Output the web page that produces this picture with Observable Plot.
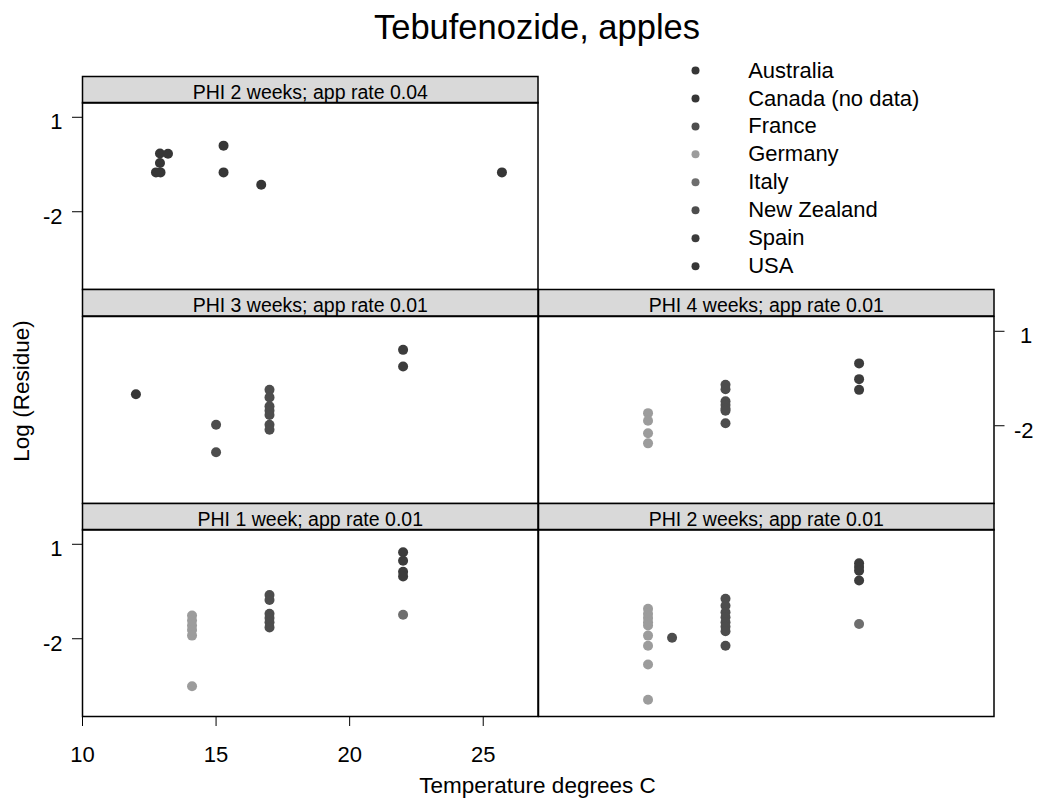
<!DOCTYPE html>
<html>
<head>
<meta charset="utf-8">
<script src="https://cdn.jsdelivr.net/npm/d3@7"></script>
<script src="https://cdn.jsdelivr.net/npm/@observablehq/plot@0.6"></script>
<style>
  body { margin: 0; background: white; }
  #chart { position: relative; width: 1038px; height: 802px; font-family: "Liberation Sans", Arial, Helvetica, sans-serif; }
  #chart > svg { position: absolute; }
</style>
</head>
<body>
<div id="chart"></div>
<script>
// Countries and the grey shade each one is drawn with
const countries = ["Australia", "Canada (no data)", "France", "Germany", "Italy", "New Zealand", "Spain", "USA"];
const countryShades = ["#363636", "#363636", "#4d4d4d", "#9c9c9c", "#6e6e6e", "#4d4d4d", "#3c3c3c", "#363636"];

const panelTitles = [
  "PHI 2 weeks; app rate 0.04",
  "PHI 3 weeks; app rate 0.01",
  "PHI 4 weeks; app rate 0.01",
  "PHI 1 week; app rate 0.01",
  "PHI 2 weeks; app rate 0.01"
];

const xTicks = [10, 15, 20, 25];
const yTicks = [1, -2];
const xDomain = [10, 27.05];
const yDomain = [-4.47, 1.47];

// PHI 2 weeks; app rate 0.04
const phi2w04Temp    = [12.75, 12.92, 12.9, 12.9, 13.2, 15.28, 15.28, 16.69, 25.7];
const phi2w04LogRes  = [-0.75, -0.75, -0.45, -0.15, -0.16, 0.10, -0.75, -1.14, -0.75];
const phi2w04Country = ["USA", "USA", "USA", "USA", "USA", "USA", "USA", "USA", "USA"];

// PHI 3 weeks; app rate 0.01
const phi3w01Temp    = [12, 15, 15, 17, 17, 17, 17, 17, 17, 17, 22, 22];
const phi3w01LogRes  = [-1.0, -1.97, -2.84, -0.86, -1.1, -1.38, -1.52, -1.66, -1.97, -2.13, 0.41, -0.12];
const phi3w01Country = ["Australia", "New Zealand", "New Zealand", "France", "France", "France", "France", "France", "France", "France", "Spain", "Spain"];

// PHI 4 weeks; app rate 0.01
const phi4w01Temp    = [14.1, 14.1, 14.1, 14.1, 17, 17, 17, 17, 17, 17, 17, 22, 22, 22];
const phi4w01LogRes  = [-1.6, -1.84, -2.24, -2.56, -0.70, -0.84, -1.22, -1.34, -1.46, -1.52, -1.92, -0.02, -0.52, -0.86];
const phi4w01Country = ["Germany", "Germany", "Germany", "Germany", "France", "France", "France", "France", "France", "France", "France", "Spain", "Spain", "Spain"];

// PHI 1 week; app rate 0.01
const phi1w01Temp    = [14.1, 14.1, 14.1, 14.1, 14.1, 14.1, 17, 17, 17, 17, 17, 17, 22, 22, 22, 22, 22];
const phi1w01LogRes  = [-1.26, -1.42, -1.58, -1.72, -1.90, -3.51, -0.61, -0.77, -1.21, -1.34, -1.48, -1.64, 0.75, 0.48, 0.13, -0.02, -1.24];
const phi1w01Country = ["Germany", "Germany", "Germany", "Germany", "Germany", "Germany", "France", "France", "France", "France", "France", "France", "Spain", "Spain", "Spain", "Spain", "Italy"];

// PHI 2 weeks; app rate 0.01
const phi2w01Temp    = [14.1, 14.1, 14.1, 14.1, 14.1, 14.1, 14.1, 14.1, 14.1, 15, 17, 17, 17, 17, 17, 17, 17, 17, 22, 22, 22, 22, 22];
const phi2w01LogRes  = [-1.05, -1.21, -1.34, -1.48, -1.58, -1.90, -2.22, -2.82, -3.94, -1.97, -0.73, -0.95, -1.16, -1.32, -1.48, -1.62, -1.76, -2.22, 0.40, 0.28, 0.16, -0.15, -1.53];
const phi2w01Country = ["Germany", "Germany", "Germany", "Germany", "Germany", "Germany", "Germany", "Germany", "Germany", "New Zealand", "France", "France", "France", "France", "France", "France", "France", "France", "Spain", "Spain", "Spain", "Spain", "Italy"];

// Panel grid: two columns, three rows (top-right cell holds the key)
const colLeft = [82, 537.5];
const colWidth = 455.5;
const rowTop = [75.5, 289, 502.5];
const stripHeight = 26.5;
const bodyHeight = 187;
const fontFamily = '"Liberation Sans", Arial, Helvetica, sans-serif';
const border = 1.5;

const panels = [
  {title: panelTitles[0], col: 0, row: 0, yAxis: "left",  xAxis: false, temp: phi2w04Temp, logRes: phi2w04LogRes, country: phi2w04Country},
  {title: panelTitles[1], col: 0, row: 1, yAxis: null,    xAxis: false, temp: phi3w01Temp, logRes: phi3w01LogRes, country: phi3w01Country},
  {title: panelTitles[2], col: 1, row: 1, yAxis: "right", xAxis: false, temp: phi4w01Temp, logRes: phi4w01LogRes, country: phi4w01Country},
  {title: panelTitles[3], col: 0, row: 2, yAxis: "left",  xAxis: true,  temp: phi1w01Temp, logRes: phi1w01LogRes, country: phi1w01Country},
  {title: panelTitles[4], col: 1, row: 2, yAxis: null,    xAxis: false, temp: phi2w01Temp, logRes: phi2w01LogRes, country: phi2w01Country}
];

const chart = document.getElementById("chart");
const svgStyle = {background: "none", overflow: "visible", fontFamily, color: "black"};

// labels padded to a common width, as in the original axis
const tickLabel = d => (d >= 0 ? "\u00a0" : "") + d;

function place(svg, left, top) {
  svg.style.left = left + "px";
  svg.style.top = top + "px";
  chart.appendChild(svg);
}

for (const p of panels) {
  const data = p.temp.map((t, i) => ({temp: t, logRes: p.logRes[i], country: p.country[i]}));

  // grey strip carrying the panel title
  const strip = Plot.plot({
    width: colWidth, height: stripHeight,
    margin: 0,
    style: svgStyle,
    marks: [
      Plot.frame({fill: "#d9d9d9", stroke: "black", strokeWidth: border}),
      Plot.text([p.title], {text: d => d, frameAnchor: "bottom", dy: -4, fontSize: 19.5, fill: "black"})
    ]
  });
  place(strip, colLeft[p.col], rowTop[p.row]);

  // panel body
  const mL = p.yAxis === "left" ? 82 : 0;
  const mR = p.yAxis === "right" ? 45 : 0;
  const mB = p.xAxis ? 86 : 0;
  const marks = [Plot.frame({stroke: "black", strokeWidth: border})];
  if (p.yAxis) {
    marks.push(Plot.axisY(yTicks, {anchor: p.yAxis, tickSize: 10, fill: "none", label: null, stroke: "black"}));
    marks.push(Plot.axisY(yTicks, {anchor: p.yAxis, tickSize: 0, tickPadding: 20, dy: 5, fontSize: 22, fill: "black", tickFormat: tickLabel, label: null}));
  }
  if (p.xAxis) {
    marks.push(Plot.axisX(xTicks, {anchor: "bottom", tickSize: 10, tickPadding: 20, fontSize: 22, fill: "black", stroke: "black", label: null}));
  }
  marks.push(Plot.dot(data, {x: "temp", y: "logRes", fill: "country", r: 5}));

  const body = Plot.plot({
    width: mL + colWidth + mR, height: bodyHeight + mB,
    marginTop: 0, marginRight: mR, marginBottom: mB, marginLeft: mL,
    x: {domain: xDomain, axis: p.xAxis ? undefined : null},
    y: {domain: yDomain, axis: p.yAxis ? undefined : null},
    color: {domain: countries, range: countryShades},
    style: svgStyle,
    marks
  });
  place(body, colLeft[p.col] - mL, rowTop[p.row] + stripHeight);
}

// key of countries
const key = Plot.plot({
  width: 320, height: 215.7,
  marginTop: 10, marginBottom: 10, marginLeft: 0, marginRight: 0,
  y: {type: "point", domain: countries, padding: 0, round: false, axis: null},
  color: {domain: countries, range: countryShades},
  style: svgStyle,
  marks: [
    Plot.dot(countries, {y: d => d, fill: d => d, r: 4, frameAnchor: "left", dx: 15}),
    Plot.text(countries, {y: d => d, text: d => d, frameAnchor: "left", textAnchor: "start", dx: 67.7, fontSize: 22, fill: "black"})
  ]
});
place(key, 680, 60);

// title and axis titles
const labels = d3.create("svg")
  .attr("width", 1038).attr("height", 802)
  .style("left", "0px").style("top", "0px")
  .style("font-family", fontFamily);
labels.append("text")
  .attr("x", 537).attr("y", 39).attr("text-anchor", "middle")
  .attr("font-size", 34.5).text("Tebufenozide, apples");
labels.append("text")
  .attr("x", 537.5).attr("y", 793).attr("text-anchor", "middle")
  .attr("font-size", 22.5).text("Temperature degrees C");
labels.append("text")
  .attr("transform", "translate(28.7,391) rotate(-90)").attr("text-anchor", "middle")
  .attr("font-size", 22.5).text("Log (Residue)");
chart.insertBefore(labels.node(), chart.firstChild);
</script>
</body>
</html>
